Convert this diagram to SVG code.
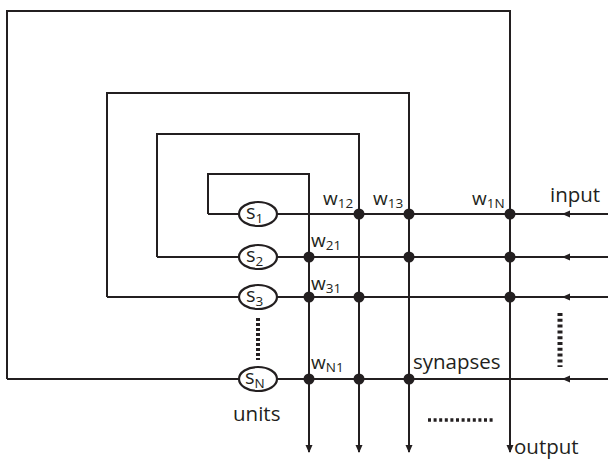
<svg xmlns="http://www.w3.org/2000/svg" width="608" height="460" viewBox="0 0 608 460">
<style>
.ln{fill:none;stroke:#231f20;stroke-width:2}
.u{fill:#fff;stroke:#231f20;stroke-width:2.2}
.d{fill:#231f20}
text{font-family:"Open Sans","Noto Sans",sans-serif;fill:#231f20}
.t{font-size:20.5px}
.s{font-size:20px}
.w{font-size:19px}
.sub{font-size:13.5px}
.dot{fill:none;stroke:#231f20;stroke-width:4;stroke-dasharray:3 2}
</style>
<defs>
<marker id="ah" markerWidth="8" markerHeight="8" refX="7" refY="4" orient="auto" markerUnits="userSpaceOnUse">
<path d="M0,0.5 L8,4 L0,7.5 Z" fill="#231f20"/>
</marker>
</defs>
<g id="connectors">
<path class="ln" d="M7,379 V11 H510 V452" marker-end="url(#ah)"/>
<path class="ln" d="M107,297 V93 H409 V452" marker-end="url(#ah)"/>
<path class="ln" d="M157,257 V134 H359 V452" marker-end="url(#ah)"/>
<path class="ln" d="M208,214 V174 H309 V452" marker-end="url(#ah)"/>
<path class="ln" d="M7,379 H608"/>
<path class="ln" d="M107,297 H608"/>
<path class="ln" d="M157,257 H608"/>
<path class="ln" d="M208,214 H608"/>
<path class="ln" d="M608,214 H563" marker-end="url(#ah)"/>
<path class="ln" d="M608,257 H563" marker-end="url(#ah)"/>
<path class="ln" d="M608,297 H563" marker-end="url(#ah)"/>
<path class="ln" d="M608,379 H563" marker-end="url(#ah)"/>
</g>
<g id="synapses">
<circle class="d" cx="359" cy="214" r="5.5"/>
<circle class="d" cx="409" cy="214" r="5.5"/>
<circle class="d" cx="510" cy="214" r="5.5"/>
<circle class="d" cx="309" cy="257" r="5.5"/>
<circle class="d" cx="409" cy="257" r="5.5"/>
<circle class="d" cx="510" cy="257" r="5.5"/>
<circle class="d" cx="309" cy="297" r="5.5"/>
<circle class="d" cx="359" cy="297" r="5.5"/>
<circle class="d" cx="510" cy="297" r="5.5"/>
<circle class="d" cx="309" cy="379" r="5.5"/>
<circle class="d" cx="359" cy="379" r="5.5"/>
<circle class="d" cx="409" cy="379" r="5.5"/>
</g>
<g id="s1"><ellipse class="u" cx="258" cy="214" rx="19" ry="12"/><text x="246" y="219" class="s">s<tspan class="sub" dy="4">1</tspan></text></g>
<g id="s2"><ellipse class="u" cx="258" cy="257" rx="19" ry="12"/><text x="246" y="262" class="s">s<tspan class="sub" dy="4">2</tspan></text></g>
<g id="s3"><ellipse class="u" cx="258" cy="297" rx="19" ry="12"/><text x="246" y="302" class="s">s<tspan class="sub" dy="4">3</tspan></text></g>
<g id="sN"><ellipse class="u" cx="258" cy="379" rx="19" ry="12"/><text x="245" y="384" class="s">s<tspan class="sub" dy="4">N</tspan></text></g>
<g id="dots">
<path class="dot" d="M258,318 V360"/>
<path class="dot" d="M560,313 V367" style="stroke-width:5;stroke-dasharray:3 2.8"/>
<path class="dot" d="M428,420 H494" style="stroke-width:3.5;stroke-dasharray:3 2.6"/>
</g>
<g id="labels">
<text x="323" y="205" class="w">w<tspan class="sub" dy="3">12</tspan></text>
<text x="373" y="205" class="w">w<tspan class="sub" dy="3">13</tspan></text>
<text x="472" y="205" class="w">w<tspan class="sub" dy="3">1N</tspan></text>
<text x="311" y="247" class="w">w<tspan class="sub" dy="3">21</tspan></text>
<text x="311" y="290" class="w">w<tspan class="sub" dy="3">31</tspan></text>
<text x="311" y="369" class="w">w<tspan class="sub" dy="3">N1</tspan></text>
<text x="550" y="202" class="t">input</text>
<text x="413" y="369" class="t">synapses</text>
<text x="233" y="421" class="t">units</text>
<text x="514" y="454" class="t">output</text>
</g>
</svg>
